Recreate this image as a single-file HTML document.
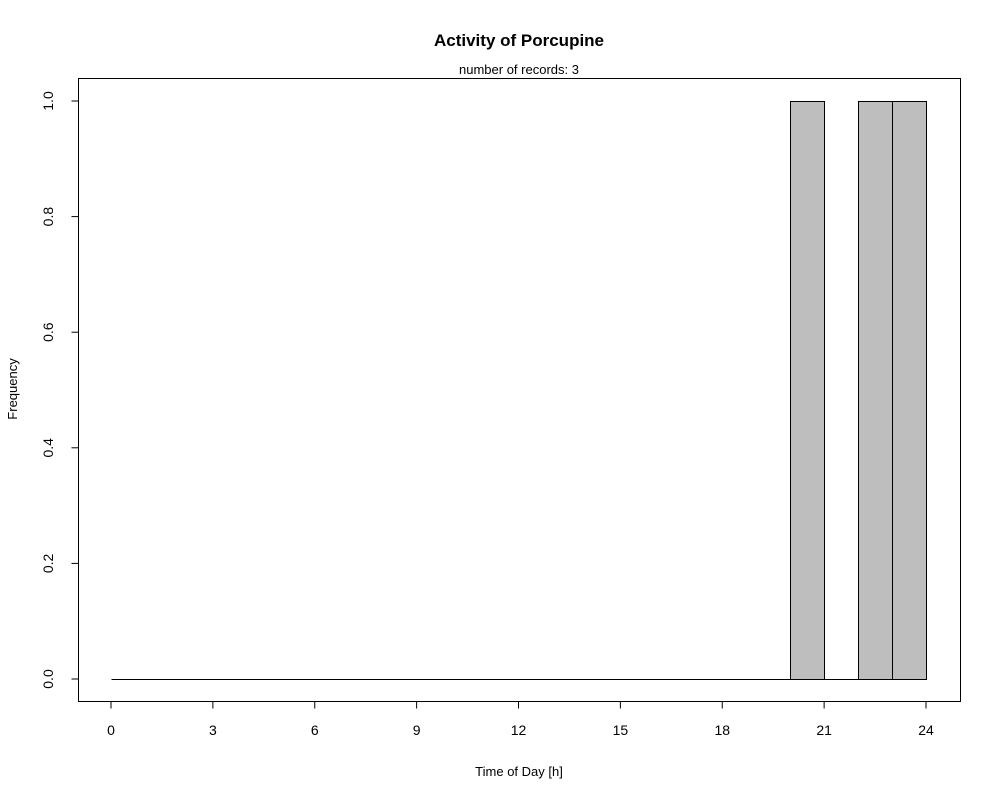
<!DOCTYPE html>
<html><head><meta charset="utf-8"><style>
body{margin:0;background:#fff;}
svg{display:block;font-family:"Liberation Sans",Arial,sans-serif;}
</style></head><body>
<svg id="chart" width="1000" height="800" viewBox="0 0 1000 800">
<rect x="0" y="0" width="1000" height="800" fill="#fff"/>
<text x="519" y="46" text-anchor="middle" font-size="17" font-weight="bold">Activity of Porcupine</text>
<text x="519" y="74" text-anchor="middle" font-size="13">number of records: 3</text>
<rect x="78.5" y="78.5" width="882" height="623" fill="none" stroke="#000"/>
<text x="519" y="776" text-anchor="middle" font-size="13">Time of Day [h]</text>
<text transform="translate(17,389) rotate(-90)" text-anchor="middle" font-size="13">Frequency</text>
<g id="bars"></g><g id="xaxis"></g><g id="yaxis"></g>
</svg>
<script>
const binStarts=[0,1,2,3,4,5,6,7,8,9,10,11,12,13,14,15,16,17,18,19,20,21,22,23];
const counts=[0,0,0,0,0,0,0,0,0,0,0,0,0,0,0,0,0,0,0,0,1,0,1,1];
const xTicks=[0,3,6,9,12,15,18,21,24];
const yTicks=[0,0.2,0.4,0.6,0.8,1.0];
const yTickLabels=["0.0","0.2","0.4","0.6","0.8","1.0"];
const NS="http://www.w3.org/2000/svg";
const xs=h=>111+h*(815/24);
const ys=v=>679-v*578;
function mk(tag,attrs,parent){const e=document.createElementNS(NS,tag);for(const k in attrs)e.setAttribute(k,attrs[k]);parent.appendChild(e);return e;}
const bars=document.getElementById('bars');
binStarts.forEach((b,i)=>{
  const x0=Math.round(xs(b))+0.5,x1=Math.round(xs(b+1))+0.5,y=Math.round(ys(counts[i]))+0.5,y0=Math.round(ys(0))+0.5;
  const p=mk('path',{d:'M'+x0+' '+y0+'L'+x0+' '+y+'L'+x1+' '+y+'L'+x1+' '+y0+'Z',fill:'#BEBEBE',stroke:'#000','stroke-width':1},bars);
  
  
});
const xa=document.getElementById('xaxis');
const xl=mk('line',{x1:xs(xTicks[0]),x2:xs(xTicks[xTicks.length-1]),y1:701.5,y2:701.5,stroke:'#000'},xa);


xTicks.forEach(t=>{
  mk('line',{x1:xs(t),x2:xs(t),y1:701.5,y2:708.5,stroke:'#000'},xa);
  const tx=mk('text',{x:xs(t),y:735,'text-anchor':'middle','font-size':14},xa);
  tx.textContent=t;
  
  
});
const ya=document.getElementById('yaxis');
const yl=mk('line',{x1:78.5,x2:78.5,y1:ys(yTicks[0]),y2:ys(yTicks[yTicks.length-1]),stroke:'#000'},ya);


yTicks.forEach((t,i)=>{
  mk('line',{x1:71.5,x2:78.5,y1:ys(t),y2:ys(t),stroke:'#000'},ya);
  const tx=mk('text',{transform:'translate(53,'+ys(t)+') rotate(-90)','text-anchor':'middle','font-size':14},ya);
  tx.textContent=yTickLabels[i];
  
  
});
</script>
</body></html>
